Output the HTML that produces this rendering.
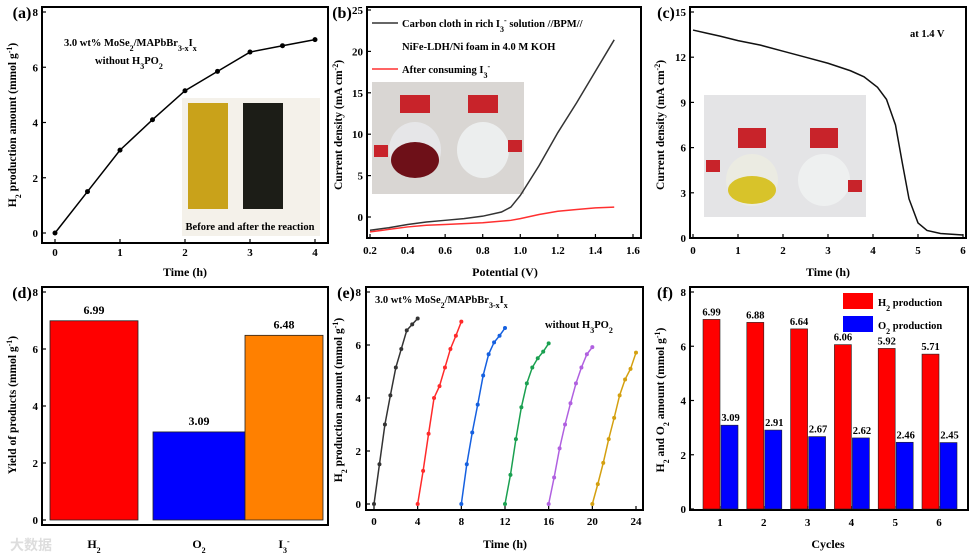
<!DOCTYPE html>
<html><head><meta charset="utf-8"><style>
body{margin:0;background:#fff;}
svg{display:block;font-family:"Liberation Serif",serif;font-weight:bold;}
</style></head><body>
<svg id="fig" width="976" height="556" viewBox="0 0 976 556">
<g>
<rect x="182" y="98" width="138" height="138" fill="#f4f1ea"/>
<rect x="188" y="103" width="40" height="106" fill="#c9a21a"/>
<rect x="243" y="103" width="40" height="106" fill="#1c1d17"/>
</g>
<g>
<rect x="372" y="82" width="152" height="112" fill="#d9d6d3"/>
<rect x="400" y="95" width="30" height="18" fill="#c8232a"/>
<rect x="468" y="95" width="30" height="18" fill="#c8232a"/>
<ellipse cx="415" cy="150" rx="26" ry="28" fill="#e6e6e8"/>
<ellipse cx="415" cy="160" rx="24" ry="18" fill="#6e1018"/>
<ellipse cx="483" cy="150" rx="26" ry="28" fill="#eceeee"/>
<rect x="374" y="145" width="14" height="12" fill="#c8232a"/>
<rect x="508" y="140" width="14" height="12" fill="#c8232a"/>
</g>
<g>
<rect x="704" y="95" width="162" height="122" fill="#e4e4e6"/>
<rect x="738" y="128" width="28" height="20" fill="#c8232a"/>
<rect x="810" y="128" width="28" height="20" fill="#c8232a"/>
<ellipse cx="752" cy="180" rx="26" ry="26" fill="#ebebe2"/>
<ellipse cx="752" cy="190" rx="24" ry="14" fill="#d8c32a"/>
<ellipse cx="824" cy="180" rx="26" ry="26" fill="#eef0f0"/>
<rect x="706" y="160" width="14" height="12" fill="#c8232a"/>
<rect x="848" y="180" width="14" height="12" fill="#c8232a"/>
</g>
</svg>
<script>
const svg=document.getElementById('fig');
const NS='http://www.w3.org/2000/svg';
function mk(tag,attrs,parent){const e=document.createElementNS(NS,tag);for(const k in attrs)e.setAttribute(k,attrs[k]);(parent||svg).appendChild(e);return e;}
function txt(x,y,s,size,anchor,parent){const t=mk('text',{x:x,y:y,'font-size':size,'text-anchor':anchor||'middle'},parent);t.innerHTML=s;return t;}

// ---- data ----
const aTime=[0,0.5,1,1.5,2,2.5,3,3.5,4];
const aH2=[0,1.5,3.0,4.1,5.15,5.85,6.55,6.78,7.0];
const bV=[0.2,0.3,0.4,0.5,0.6,0.7,0.8,0.9,0.95,1.0,1.1,1.2,1.3,1.4,1.5];
const bBlack=[-1.6,-1.3,-0.9,-0.6,-0.4,-0.2,0.1,0.6,1.2,2.6,6.2,10.2,13.8,17.6,21.4];
const bRed=[-1.8,-1.5,-1.2,-1.0,-0.9,-0.8,-0.7,-0.5,-0.4,-0.2,0.3,0.7,0.9,1.1,1.2];
const cTime=[0,0.3,0.6,1,1.5,2,2.5,3,3.5,3.8,4.1,4.3,4.5,4.65,4.8,5,5.2,5.5,6];
const cJ=[13.8,13.6,13.4,13.1,12.8,12.4,12.0,11.6,11.1,10.7,10.0,9.2,7.5,5.0,2.6,1.0,0.5,0.3,0.2];
const SUB=s=>`<tspan font-size="8" baseline-shift="sub">${s}</tspan>`;
const SUP=s=>`<tspan font-size="8" baseline-shift="super">${s}</tspan>`;
const dCats=['H'+SUB('2'),'O'+SUB('2'),'I'+SUB('3')+SUP('-')];
const dVals=[6.99,3.09,6.48];
const dColors=['#ff0000','#0000ff','#ff8000'];
const eSeries=[[0,1.5,3.0,4.1,5.15,5.85,6.55,6.78,7.0],[0,1.25,2.65,4.0,4.45,5.15,5.85,6.35,6.88],[0,1.5,2.7,3.75,4.85,5.65,6.1,6.35,6.64],[0,1.1,2.45,3.65,4.55,5.15,5.5,5.75,6.06],[0,1.0,2.1,3.0,3.8,4.55,5.15,5.65,5.92],[0,0.75,1.55,2.45,3.25,4.1,4.7,5.1,5.71]];
const eStarts=[0,4,8,12,16,20];
const eColors=['#333333','#ff2a2a','#1560e0','#1aa050','#b060e0','#d4a010'];
const fCycles=[1,2,3,4,5,6];
const fH2=[6.99,6.88,6.64,6.06,5.92,5.71];
const fO2=[3.09,2.91,2.67,2.62,2.46,2.45];

function lin(d0,d1,r0,r1){return v=>r0+(v-d0)*(r1-r0)/(d1-d0);}
function frame(name,x0,y0,x1,y1){mk('rect',{x:x0,y:y0,width:x1-x0,height:y1-y0,fill:'none',stroke:'#000','stroke-width':2,});}
function xticks(vals,labels,sx,yb,ylab){vals.forEach((v,i)=>{mk('line',{x1:sx(v),x2:sx(v),y1:yb,y2:yb-4,stroke:'#000','stroke-width':1.2});txt(sx(v),ylab,labels[i],11);});}
function yticks(vals,labels,sy,xl,xlab){vals.forEach((v,i)=>{mk('line',{x1:xl,x2:xl+4,y1:sy(v),y2:sy(v),stroke:'#000','stroke-width':1.2});txt(xlab,sy(v)+4,labels[i],11,'end');});}
function ytitle(x,y,s){const t=mk('text',{x:0,y:0,'font-size':11.5,'text-anchor':'middle',transform:`translate(${x},${y}) rotate(-90)`});t.innerHTML=s;return t;}
function line(pts,color,w,name){const p=mk('polyline',{points:pts.map(q=>q.join(',')).join(' '),fill:'none',stroke:color,'stroke-width':w});return p;}
const UNIT=' (mmol g'+SUP('-1')+')';
const UNITJ=' (mA cm'+SUP('-2')+')';

// ---- panel a ----
{const sx=lin(0,4,55,315),sy=lin(0,8,233,12);
frame('panel-a-frame',42,7,328,243);
xticks([0,1,2,3,4],['0','1','2','3','4'],sx,243,256);
yticks([0,2,4,6,8],['0','2','4','6','8'],sy,42,38);
txt(185,276,'Time (h)',12);
ytitle(16,125,'H'+SUB('2')+' production amount'+UNIT);
line(aTime.map((t,i)=>[sx(t),sy(aH2[i])]),'#000',1.5,'h2-line-a');
aTime.forEach((t,i)=>{const c=mk('circle',{cx:sx(t),cy:sy(aH2[i]),r:2.5,fill:'#000'});});
txt(64,46,'3.0 wt% MoSe'+SUB('2')+'/MAPbBr'+SUB('3-x')+'I'+SUB('x'),10.5,'start');
txt(95,64,'without H'+SUB('3')+'PO'+SUB('2'),10.5,'start');
txt(250,230,'Before and after the reaction',10.5);
txt(22,18,'(a)',16);}

// ---- panel b ----
{const sx=lin(0.2,1.6,370,633),sy=lin(0,25,217,10);
frame('panel-b-frame',367,7,641,238);
xticks([0.2,0.4,0.6,0.8,1.0,1.2,1.4,1.6],['0.2','0.4','0.6','0.8','1.0','1.2','1.4','1.6'],sx,238,254);
yticks([0,5,10,15,20,25],['0','5','10','15','20','25'],sy,367,363);
txt(505,276,'Potential (V)',12);
ytitle(342,125,'Current density'+UNITJ);
line(bV.map((v,i)=>[sx(v),sy(bBlack[i])]),'#333',1.5,'black-curve-b');
line(bV.map((v,i)=>[sx(v),sy(bRed[i])]),'#ff3030',1.5,'red-curve-b');
mk('line',{x1:372,x2:398,y1:23,y2:23,stroke:'#333','stroke-width':1.5});
mk('line',{x1:372,x2:398,y1:69,y2:69,stroke:'#ff3030','stroke-width':1.5});
txt(402,27,'Carbon cloth in rich I'+SUB('3')+SUP('-')+' solution //BPM//',10.5,'start');
txt(402,50,'NiFe-LDH/Ni foam in 4.0 M KOH',10.5,'start');
txt(402,73,'After consuming I'+SUB('3')+SUP('-'),10.5,'start');
txt(342,18,'(b)',16);}

// ---- panel c ----
{const sx=lin(0,6,693,963),sy=lin(0,15,238,12);
frame('panel-c-frame',690,7,966,238);
xticks([0,1,2,3,4,5,6],['0','1','2','3','4','5','6'],sx,238,254);
yticks([0,3,6,9,12,15],['0','3','6','9','12','15'],sy,690,686);
txt(828,276,'Time (h)',12);
ytitle(664,125,'Current density'+UNITJ);
line(cTime.map((t,i)=>[sx(t),sy(cJ[i])]),'#111',1.5,'current-curve-c');
txt(910,37,'at 1.4 V',10.5,'start');
txt(666,18,'(c)',16);}

// ---- panel d ----
{const sy=lin(0,8,520,292);const cx=[94,199,284];const bws=[88,92,78];
frame('panel-d-frame',42,287,328,525);
yticks([0,2,4,6,8],['0','2','4','6','8'],sy,42,38);
ytitle(16,405,'Yield of products '+UNIT);
dVals.forEach((v,i)=>{const bw=bws[i];const r=mk('rect',{x:cx[i]-bw/2,y:sy(v),width:bw,height:sy(0)-sy(v),fill:dColors[i],stroke:'#222','stroke-width':0.8});
txt(cx[i],sy(v)-7,v.toFixed(2),12);txt(cx[i],548,dCats[i],12);});
txt(22,298,'(d)',16);}

// ---- panel e ----
{const sx=lin(0,24,374,636),sy=lin(0,8,504,292);
frame('panel-e-frame',366,287,643,510);
xticks([0,4,8,12,16,20,24],['0','4','8','12','16','20','24'],sx,510,525);
yticks([0,2,4,6,8],['0','2','4','6','8'],sy,366,361);
txt(505,548,'Time (h)',12);
ytitle(342,400,'H'+SUB('2')+' production amount'+UNIT);
eSeries.forEach((s,k)=>{const pts=s.map((v,i)=>[sx(eStarts[k]+i*0.5),sy(v)]);line(pts,eColors[k],1.5,'cycle-line-e');
pts.forEach(p=>{const c=mk('circle',{cx:p[0],cy:p[1],r:2,fill:eColors[k]});});});
txt(375,303,'3.0 wt% MoSe'+SUB('2')+'/MAPbBr'+SUB('3-x')+'I'+SUB('x'),10.5,'start');
txt(545,328,'without H'+SUB('3')+'PO'+SUB('2'),10.5,'start');
txt(346,298,'(e)',16);}

// ---- panel f ----
{const sy=lin(0,8,509,292);const sx=lin(1,6,720,939);const bw=17;
frame('panel-f-frame',690,287,968,510);
yticks([0,2,4,6,8],['0','2','4','6','8'],sy,690,686);
fCycles.forEach(c=>{mk('line',{x1:sx(c),x2:sx(c),y1:510,y2:506,stroke:'#000'});txt(sx(c),526,String(c),11);});
txt(828,548,'Cycles',12);
ytitle(664,400,'H'+SUB('2')+' and O'+SUB('2')+' amount'+UNIT);
fCycles.forEach((c,i)=>{const r1=mk('rect',{x:sx(c)-bw,y:sy(fH2[i]),width:bw,height:sy(0)-sy(fH2[i]),fill:'#ff0000',stroke:'#222','stroke-width':0.6});
const r2=mk('rect',{x:sx(c)+1,y:sy(fO2[i]),width:bw,height:sy(0)-sy(fO2[i]),fill:'#0000ff',stroke:'#222','stroke-width':0.6});
txt(sx(c)-bw/2,sy(fH2[i])-4,fH2[i].toFixed(2),10.5);txt(sx(c)+bw/2+2,sy(fO2[i])-4,fO2[i].toFixed(2),10.5);});
mk('rect',{x:843,y:293,width:30,height:16,fill:'#ff0000'});mk('rect',{x:843,y:316,width:30,height:16,fill:'#0000ff'});
txt(878,306,'H'+SUB('2')+' production',10.5,'start');txt(878,329,'O'+SUB('2')+' production',10.5,'start');
txt(665,298,'(f)',16);}
const wm=txt(10,550,'大数据',14,'start');wm.setAttribute('fill','#ddd');wm.setAttribute('font-family','"Noto Sans CJK SC",sans-serif');
</script>
</body></html>
